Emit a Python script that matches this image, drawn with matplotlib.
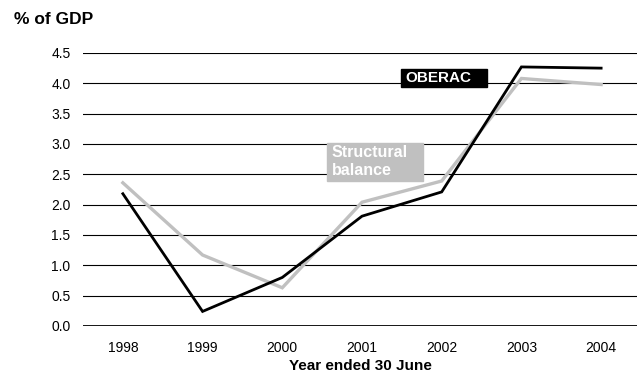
import matplotlib
matplotlib.use("Agg")
import matplotlib.pyplot as plt
from matplotlib.patches import Rectangle

plt.rcParams["font.family"] = ["Liberation Sans", "DejaVu Sans"]

# ── Data ──────────────────────────────────────────────────────────────────
years = ["1998", "1999", "2000", "2001", "2002", "2003", "2004"]
oberac = [2.18, 0.24, 0.80, 1.81, 2.21, 4.27, 4.25]
structural = [2.36, 1.17, 0.63, 2.04, 2.39, 4.08, 3.98]
yticks = [0.0, 0.5, 1.0, 1.5, 2.0, 2.5, 3.0, 3.5, 4.0, 4.5]

GREY = "#c0c0c0"

fig = plt.figure(figsize=(6.37, 3.76), dpi=100)
ax = fig.add_axes([0.1303, 0.1330, 0.8697, 0.7261])

# horizontal gridlines
for v in yticks:
    ax.axhline(v, color="black", lw=2.0 if v == 0 else 0.8, zorder=1)

x = range(len(years))
ax.plot(x, structural, color=GREY, lw=2.4, zorder=3, solid_joinstyle="miter")
ax.plot(x, oberac, color="black", lw=2.0, zorder=4, solid_joinstyle="miter")

ax.set_xlim(-0.5, 6.45)
ax.set_ylim(0, 4.5)
ax.set_xticks(list(x))
ax.set_xticklabels(years)
ax.set_yticks(yticks)
ax.set_yticklabels([f"{v:.1f}" for v in yticks])
ax.tick_params(axis="both", length=0, labelsize=10)
ax.tick_params(axis="y", pad=9)
ax.tick_params(axis="x", pad=11)
for s in ax.spines.values():
    s.set_visible(False)

# series labels
ax.add_patch(Rectangle((3.49, 3.94), 1.08, 0.30, color="black", zorder=5,
                       clip_on=False))
ax.text(3.54, 4.09, "OBERAC", color="white", fontsize=11, fontweight="bold",
        va="center", ha="left", zorder=6)
ax.add_patch(Rectangle((2.56, 2.39), 1.21, 0.63, color=GREY, zorder=5,
                       clip_on=False))
ax.text(2.62, 2.71, "Structural\nbalance", color="white", fontsize=11.5,
        fontweight="bold", va="center", ha="left", linespacing=1.3, zorder=6)

ax.set_xlabel("Year ended 30 June", fontsize=11, fontweight="bold",
              labelpad=3)
fig.text(14 / 637, 1 - 19 / 376, "% of GDP", fontsize=12.5,
         fontweight="bold", va="center", ha="left")

fig.savefig("out.png", dpi=100)
